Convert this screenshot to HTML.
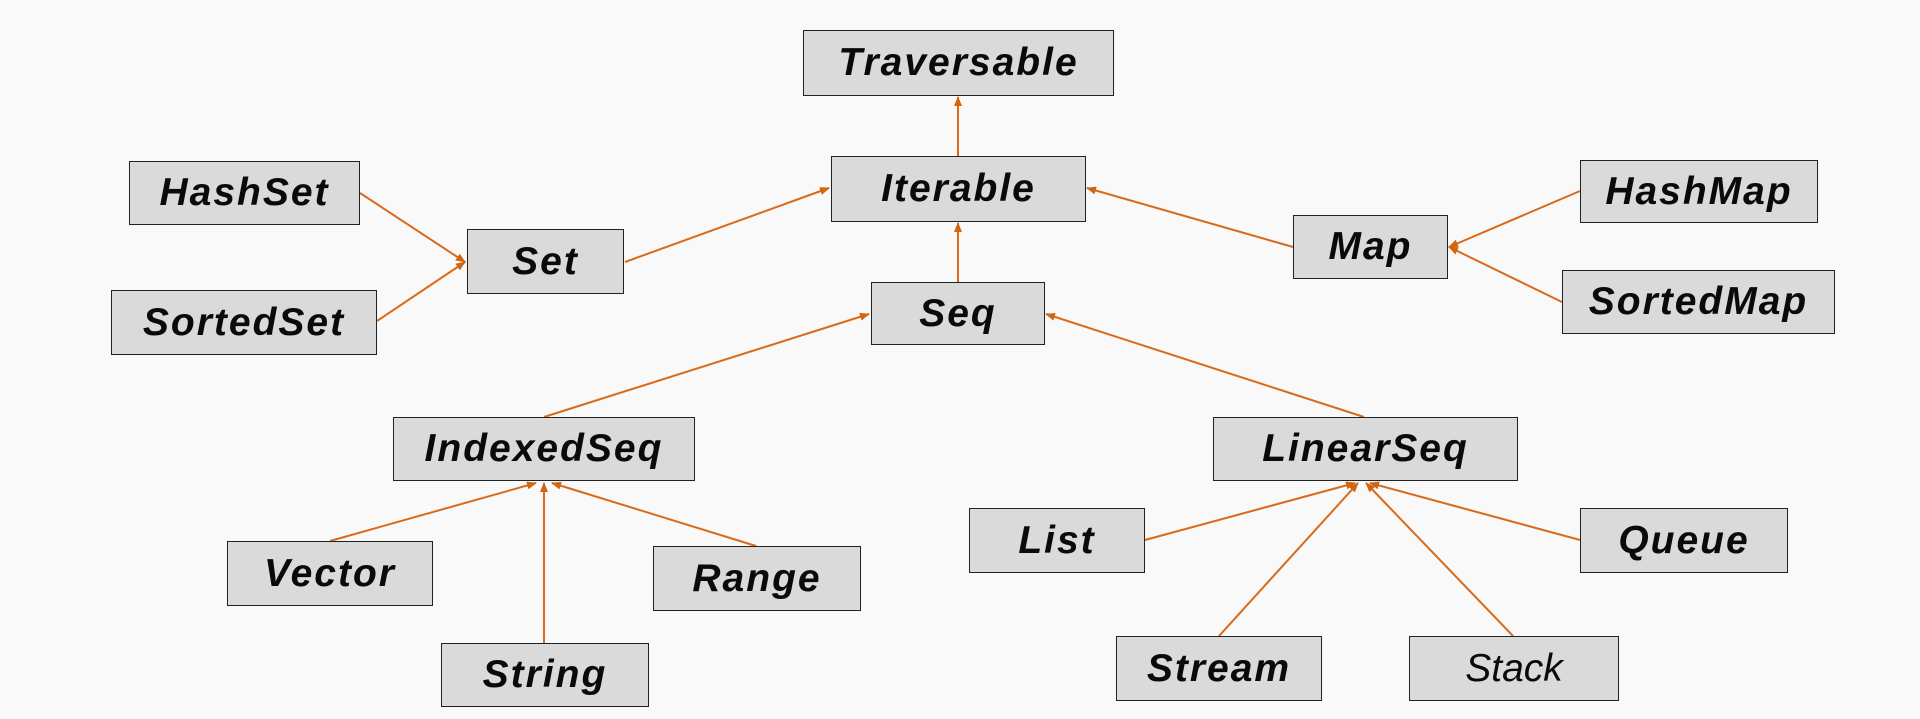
<!DOCTYPE html>
<html><head><style>
html,body{margin:0;padding:0;background:#f9f9f9;}
body{width:1920px;height:719px;position:relative;overflow:hidden;font-family:"Liberation Sans",sans-serif;}
.b{position:absolute;background:#dadada;border:1.5px solid #222;box-sizing:border-box;display:flex;align-items:center;justify-content:center;font-weight:bold;font-style:italic;font-size:39px;color:#0a0a0a;letter-spacing:2px;}
svg{position:absolute;left:0;top:0;}
</style></head><body>
<svg width="1920" height="719" viewBox="0 0 1920 719">
<defs><marker id="a" markerWidth="10" markerHeight="10" refX="9" refY="5" orient="auto" markerUnits="userSpaceOnUse"><path d="M0,1 L10,5 L0,9 z" fill="#d2650f"/></marker></defs>
<g stroke="#d86a1a" stroke-width="2" fill="none" marker-end="url(#a)">
<line x1="958" y1="156" x2="958" y2="97"/>
<line x1="625" y1="262" x2="829" y2="188"/>
<line x1="1293" y1="247" x2="1087" y2="188"/>
<line x1="958" y1="282" x2="958" y2="223"/>
<line x1="360" y1="193" x2="465" y2="262"/>
<line x1="377" y1="321" x2="465" y2="262"/>
<line x1="1580" y1="191" x2="1449" y2="247"/>
<line x1="1562" y1="302" x2="1449" y2="247"/>
<line x1="544" y1="417" x2="869" y2="314"/>
<line x1="1364" y1="417" x2="1046" y2="314"/>
<line x1="330" y1="541" x2="536" y2="483"/>
<line x1="544" y1="643" x2="544" y2="483"/>
<line x1="756" y1="546" x2="552" y2="483"/>
<line x1="1145" y1="540" x2="1355" y2="483"/>
<line x1="1580" y1="540" x2="1370" y2="483"/>
<line x1="1219" y1="636" x2="1358" y2="483"/>
<line x1="1513" y1="636" x2="1366" y2="483"/>
</g>
</svg>
<div class="b" style="left:803px;top:30px;width:311px;height:66px">Traversable</div>
<div class="b" style="left:831px;top:156px;width:255px;height:66px">Iterable</div>
<div class="b" style="left:129px;top:161px;width:231px;height:64px">HashSet</div>
<div class="b" style="left:467px;top:229px;width:157px;height:65px">Set</div>
<div class="b" style="left:111px;top:290px;width:266px;height:65px">SortedSet</div>
<div class="b" style="left:1293px;top:215px;width:155px;height:64px">Map</div>
<div class="b" style="left:1580px;top:160px;width:238px;height:63px">HashMap</div>
<div class="b" style="left:1562px;top:270px;width:273px;height:64px">SortedMap</div>
<div class="b" style="left:871px;top:282px;width:174px;height:63px">Seq</div>
<div class="b" style="left:393px;top:417px;width:302px;height:64px">IndexedSeq</div>
<div class="b" style="left:1213px;top:417px;width:305px;height:64px">LinearSeq</div>
<div class="b" style="left:227px;top:541px;width:206px;height:65px">Vector</div>
<div class="b" style="left:653px;top:546px;width:208px;height:65px">Range</div>
<div class="b" style="left:441px;top:643px;width:208px;height:64px">String</div>
<div class="b" style="left:969px;top:508px;width:176px;height:65px">List</div>
<div class="b" style="left:1580px;top:508px;width:208px;height:65px">Queue</div>
<div class="b" style="left:1116px;top:636px;width:206px;height:65px">Stream</div>
<div class="b" style="left:1409px;top:636px;width:210px;height:65px;font-weight:normal;letter-spacing:0">Stack</div>
</body></html>
